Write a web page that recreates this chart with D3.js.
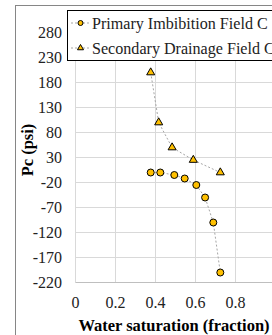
<!DOCTYPE html>
<html>
<head>
<meta charset="utf-8">
<script src="https://cdn.jsdelivr.net/npm/d3@7"></script>
<style>
  body { margin: 0; background: #fff; }
  svg { display: block; }
  text { font-family: 'Liberation Serif', 'Times New Roman', 'DejaVu Serif', serif; }
</style>
</head>
<body>
<div id="chart"></div>
<script>
// Primary imbibition curve
const imbSw = [0.376, 0.424, 0.494, 0.546, 0.604, 0.648, 0.689, 0.724];
const imbPc = [0, 0, -5, -12, -25, -50, -100, -200];

// Secondary drainage curve
const drnSw = [0.376, 0.416, 0.483, 0.589, 0.724];
const drnPc = [200, 100, 50, 25, 0];

const xTicks = [0, 0.2, 0.4, 0.6, 0.8, 1];
const yTicks = [-220, -170, -120, -70, -20, 30, 80, 130, 180, 230, 280];

const seriesNames = ['Primary Imbibition Field C', 'Secondary Drainage Field C'];

const width = 272;
const height = 335;
const fill = '#ffc000';

const svg = d3.select('#chart').append('svg')
  .attr('width', width)
  .attr('height', height);

// chart area frame (runs past the window)
svg.append('rect')
  .attr('x', 15.5).attr('y', 5.5)
  .attr('width', 400).attr('height', 400)
  .attr('fill', 'none')
  .attr('stroke', '#868686');

const x = d3.scaleLinear().domain([0, 1]).range([75.5, 275.5]);
const y = d3.scaleLinear().domain([-220, 280]).range([282.5, 32.5]);

// gridlines
svg.append('g')
  .selectAll('line')
  .data(xTicks)
  .enter().append('line')
  .attr('x1', d => x(d)).attr('x2', d => x(d))
  .attr('y1', y(280)).attr('y2', y(-220))
  .attr('stroke', '#d9d9d9');

svg.append('g')
  .selectAll('line')
  .data(yTicks)
  .enter().append('line')
  .attr('x1', x(0)).attr('x2', x(1))
  .attr('y1', d => y(d)).attr('y2', d => y(d))
  .attr('stroke', d => d === -220 ? '#bfbfbf' : '#d9d9d9');

// tick labels
svg.append('g')
  .selectAll('text')
  .data(yTicks)
  .enter().append('text')
  .attr('x', 62)
  .attr('y', d => y(d) + 5)
  .attr('text-anchor', 'end')
  .attr('font-size', 16)
  .attr('fill', '#222')
  .text(d => d);

svg.append('g')
  .selectAll('text')
  .data(xTicks.slice(0, 5))
  .enter().append('text')
  .attr('x', d => x(d))
  .attr('y', 308)
  .attr('text-anchor', 'middle')
  .attr('font-size', 16)
  .attr('fill', '#222')
  .text(d => d);

// axis titles
svg.append('text')
  .attr('x', 174).attr('y', 331)
  .attr('text-anchor', 'middle')
  .attr('font-size', 16.5)
  .attr('font-weight', 'bold')
  .text('Water saturation (fraction)');

svg.append('text')
  .attr('transform', 'translate(33,150) rotate(-90)')
  .attr('text-anchor', 'middle')
  .attr('font-size', 16.5)
  .attr('font-weight', 'bold')
  .text('Pc (psi)');

const line = d3.line().x(d => x(d[0])).y(d => y(d[1]));
const imb = d3.zip(imbSw, imbPc);
const drn = d3.zip(drnSw, drnPc);

[imb, drn].forEach(pts => {
  svg.append('path')
    .attr('d', line(pts))
    .attr('fill', 'none')
    .attr('stroke', '#a6a6a6')
    .attr('stroke-width', 1)
    .attr('stroke-dasharray', '2,2');
});

const tri = d3.symbol().type(d3.symbolTriangle).size(28);

svg.append('g')
  .selectAll('circle')
  .data(imb)
  .enter().append('circle')
  .attr('cx', d => x(d[0])).attr('cy', d => y(d[1]))
  .attr('r', 3.5)
  .attr('fill', fill)
  .attr('stroke', '#000')
  .attr('stroke-width', 1);

svg.append('g')
  .selectAll('path')
  .data(drn)
  .enter().append('path')
  .attr('transform', d => `translate(${x(d[0])},${y(d[1])})`)
  .attr('d', tri)
  .attr('fill', fill)
  .attr('stroke', '#000')
  .attr('stroke-width', 1);

// legend
const legend = svg.append('g');
legend.append('rect')
  .attr('x', 67.5).attr('y', 10.5)
  .attr('width', 300).attr('height', 50)
  .attr('fill', '#fff')
  .attr('stroke', '#000');

const items = legend.selectAll('g')
  .data(seriesNames)
  .enter().append('g')
  .attr('transform', (d, i) => `translate(0,${23 + i * 25})`);

items.append('line')
  .attr('x1', 71).attr('x2', 90)
  .attr('stroke', '#a6a6a6')
  .attr('stroke-dasharray', '2,2');

items.each(function(d, i) {
  const g = d3.select(this);
  if (i === 0) {
    g.append('circle').attr('cx', 80.5).attr('r', 2.5)
      .attr('fill', fill).attr('stroke', '#000');
  } else {
    g.append('path').attr('transform', 'translate(80.5,0)')
      .attr('d', d3.symbol().type(d3.symbolTriangle).size(16))
      .attr('fill', fill).attr('stroke', '#000');
  }
});

items.append('text')
  .attr('x', 92).attr('y', 5.5)
  .attr('font-size', 16.1)
  .attr('fill', '#222')
  .text(d => d);
</script>
</body>
</html>
